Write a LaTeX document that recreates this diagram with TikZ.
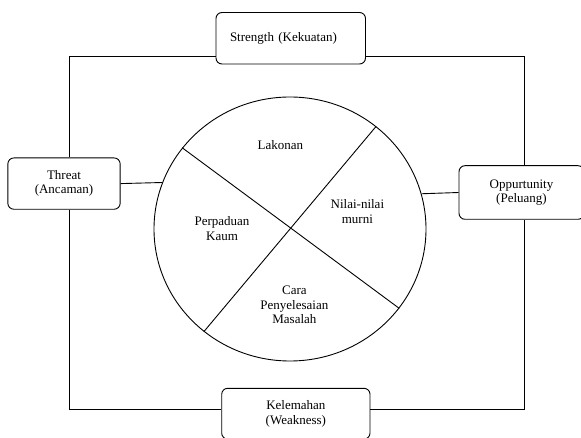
\documentclass[tikz,border=0pt]{standalone}
\usepackage{fontspec}
\setmainfont{Liberation Serif}
\usetikzlibrary{shapes.geometric, positioning}

\begin{document}
\begin{tikzpicture}[x=1pt, y=-1pt, line width=0.9pt,
		font=\fontsize{13}{14.5}\selectfont,
		box/.style={draw, rounded corners=6pt, fill=white, align=center, inner sep=0pt}]
			\useasboundingbox (0,0) rectangle (581,438);
			% Corners of the outer frame
			\coordinate (tl) at (69,56);
			\coordinate (tr) at (524.7,56);
			\coordinate (bl) at (69,409);
			\coordinate (br) at (524.7,409);
			% The four boxes
			\node[box, minimum width=149.5pt, minimum height=51.5pt, text width=121.5pt, align=left] (strength) at (290.75,38.25) {Strength (Kekuatan)};
			\node[box, minimum width=112.3pt, minimum height=51.3pt] (threat) at (64,183.6) {Threat\\(Ancaman)};
			\node[box, minimum width=125pt, minimum height=53.6pt] (oppo) at (521.5,192.5) {Oppurtunity\\(Peluang)};
			\node[box, minimum width=148.3pt, minimum height=50.8pt] (weak) at (295.85,413.7) {Kelemahan\\(Weakness)};
			% Frame joining the boxes
			\draw (strength.west |- tl) -- (tl) -- (threat.north -| tl);
			\draw (threat.south -| tl) -- (bl) -- (weak.west |- bl);
			\draw (weak.east |- bl) -- (br) -- (oppo.south -| br);
			\draw (oppo.north -| br) -- (tr) -- (strength.east |- tr);
			% Circle cut in four parts
			\node[draw, ellipse, minimum width=272pt, minimum height=264pt, inner sep=0pt] (circ) at (290,229) {};
			\draw (circ.143.6) -- (circ.-36.4);
			\draw (circ.50.8) -- (circ.230.8);
			\draw (threat.east) -- (circ.160.4);
			\draw (circ.15.6) -- (oppo.west);
			% Parts of the circle
			\node (lakonan) at (280.4,145) {Lakonan};
			\node[align=center] (nilai) at (357.4,211.5) {Nilai-nilai\\murni};
			\node[align=center] (kaum) at (222,228.7) {Perpaduan\\Kaum};
			\node[align=center] (masalah) at (294.4,304.8) {Cara\\Penyelesaian\\Masalah};
		\end{tikzpicture}
\end{document}
